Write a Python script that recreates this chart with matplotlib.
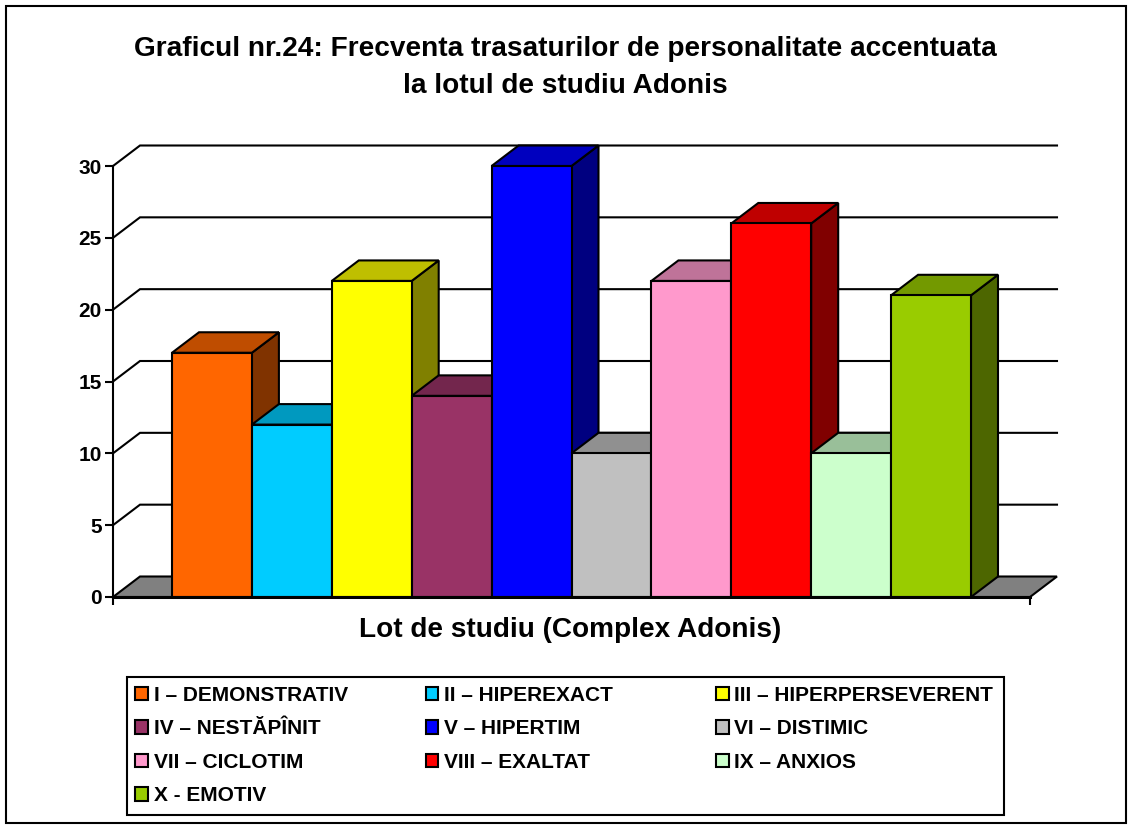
import matplotlib
matplotlib.use("Agg")
import matplotlib.pyplot as plt
from matplotlib.patches import Patch, Rectangle
from matplotlib.colors import to_rgb

plt.rcParams['font.family'] = ['Liberation Sans', 'DejaVu Sans']
plt.rcParams['font.weight'] = 'bold'

title = "Graficul nr.24: Frecventa trasaturilor de personalitate accentuata\nla lotul de studiu Adonis"
xlabel = "Lot de studiu (Complex Adonis)"
categories = ["I – DEMONSTRATIV", "II – HIPEREXACT", "III – HIPERPERSEVERENT",
              "IV – NESTĂPÎNIT", "V – HIPERTIM", "VI – DISTIMIC",
              "VII – CICLOTIM", "VIII – EXALTAT", "IX – ANXIOS", "X - EMOTIV"]
values = [17, 12, 22, 14, 30, 10, 22, 26, 10, 21]
colors = ["#FF6600", "#00CCFF", "#FFFF00", "#993366", "#0000FF",
          "#C0C0C0", "#FF99CC", "#FF0000", "#CCFFCC", "#99CC00"]
yticks = [0, 5, 10, 15, 20, 25, 30]

W, H = 1128, 825
LW = 1.5
fig = plt.figure(figsize=(W / 100, H / 100), dpi=100, facecolor="white")
fig.add_artist(Rectangle((5.5 / W, 1 - 823 / H), 1120.5 / W, 817 / H, transform=fig.transFigure,
                         fill=False, ec="black", lw=LW))

px_l, px_r, px_top, px_bot = 113, 1030, 166, 597
ax = fig.add_axes([px_l / W, 1 - px_bot / H, (px_r - px_l) / W, (px_bot - px_top) / H])
unit = 79.9
x0 = -(172 - px_l) / unit
x1 = x0 + (px_r - px_l) / unit
ax.set_xlim(x0, x1)
ax.set_ylim(0, 30)
ax.patch.set_visible(False)
dx = 27 / unit
dy = 20.5 / ((px_bot - px_top) / 30)

# back wall lines
for v in yticks[1:]:
    ax.plot([x0, x0 + dx, x1 + dx], [v, v + dy, v + dy], color="black", lw=LW, clip_on=False, zorder=1,
            solid_joinstyle="miter")
# floor
ax.fill([x0, x0 + dx, x1 + dx, x1], [0, dy, dy, 0], facecolor="#808080", edgecolor="black", lw=LW,
        clip_on=False, zorder=1.5)


def shade(c, f):
    return tuple(f * ch for ch in to_rgb(c))


for i, (v, c) in enumerate(zip(values, colors)):
    z = 2 + i * 0.1
    kw = dict(edgecolor="black", lw=LW, clip_on=False, zorder=z, joinstyle="miter")
    ax.fill([i + 1, i + 1 + dx, i + 1 + dx, i + 1], [0, dy, v + dy, v], facecolor=shade(c, 0.5), **kw)
    ax.fill([i, i + dx, i + 1 + dx, i + 1], [v, v + dy, v + dy, v], facecolor=shade(c, 0.75), **kw)
    ax.fill([i, i + 1, i + 1, i], [0, 0, v, v], facecolor=c, **kw)

for s in ("top", "right"):
    ax.spines[s].set_visible(False)
for s in ("left", "bottom"):
    ax.spines[s].set_linewidth(LW)
    ax.spines[s].set_zorder(5)
ax.spines["bottom"].set_linewidth(2.2)
ax.set_yticks(yticks)
ax.set_xticks([x0, x1])
ax.set_xticklabels([])
ax.tick_params(axis="both", length=5.5, width=LW, zorder=5)
ax.tick_params(axis="y", labelsize=15, pad=2.5)
ax.tick_params(axis="x", direction="out")

fig.text(565 / W, 1 - 67.5 / H, title, ha="center", va="center", fontsize=20.2, fontweight="bold",
         linespacing=1.54)
fig.text(570.5 / W, 1 - 630 / H, xlabel, ha="center", va="center", fontsize=20.2, fontweight="bold")

# legend frame
fig.add_artist(Rectangle((127 / W, 1 - 815 / H), 877 / W, 138.5 / H, transform=fig.transFigure,
                         facecolor="white", ec="black", lw=LW))
handles = [Patch(facecolor=c, edgecolor="black", lw=LW) for c in colors]
order = [0, 3, 6, 9, 1, 4, 7, 2, 5, 8]
leg = fig.legend([handles[k] for k in order], [categories[k] for k in order], ncol=3,
                 loc="lower left", bbox_to_anchor=(135.2 / W, 1 - 805.2 / H), bbox_transform=fig.transFigure,
                 fontsize=15, frameon=False,
                 handlelength=0.61, handleheight=0.61, handletextpad=0.27, labelspacing=0.695,
                 columnspacing=0.6, borderpad=0, borderaxespad=0)
leg._legend_handle_box.mode = "equal"
leg._legend_handle_box.width = 871
for t in leg.get_texts():
    t.set_fontweight("bold")

fig.savefig("out.png", dpi=100, facecolor="white")
